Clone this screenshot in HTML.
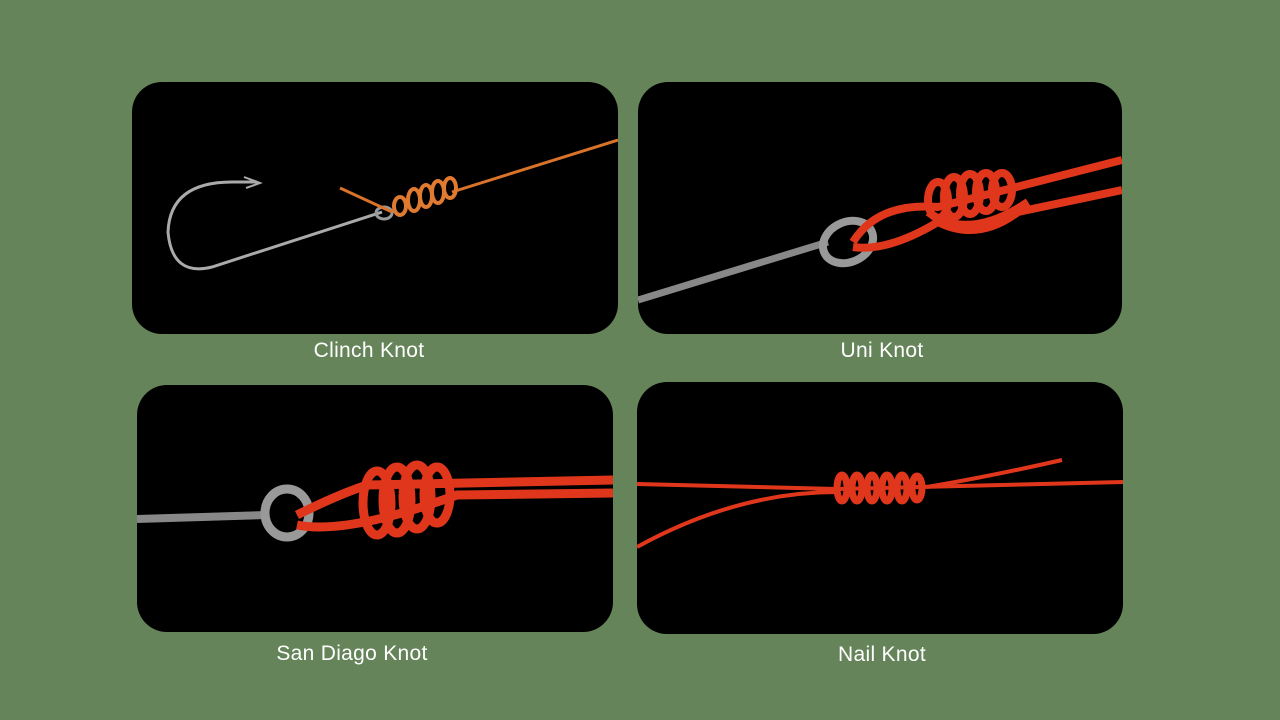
<!DOCTYPE html>
<html><head><meta charset="utf-8"><style>
html,body{margin:0;padding:0;}
body{width:1280px;height:720px;background:#66845a;position:relative;overflow:hidden;font-family:"Liberation Sans",sans-serif;}
.p{position:absolute;background:#000;border-radius:30px;overflow:hidden;}
.l{position:absolute;color:#fff;font-size:21px;transform:translateX(-50%);white-space:nowrap;letter-spacing:0.3px;}
svg{position:absolute;left:0;top:0;}
</style></head><body>
<div class="p" style="left:132px;top:82px;width:486px;height:252px;">
<svg width="486" height="252">
<path d="M250 130 L80 185 Q40 195 36 150 Q38 100 100 100 L125 100" fill="none" stroke="#aaa" stroke-width="3"/>
<path d="M112 95 L128 101 L114 106" fill="none" stroke="#aaa" stroke-width="2"/>
<ellipse cx="252" cy="131" rx="8" ry="6" fill="none" stroke="#999" stroke-width="3"/>
<path d="M320 110 L486 58" stroke="#d9732a" stroke-width="3" fill="none"/>
<path d="M208 106 L260 130" stroke="#d9732a" stroke-width="3" fill="none"/>
<g fill="none" stroke="#e07a30" stroke-width="4">
<ellipse cx="268" cy="124" rx="6" ry="9"/><ellipse cx="282" cy="118" rx="6" ry="11"/><ellipse cx="294" cy="114" rx="6" ry="11"/><ellipse cx="306" cy="110" rx="6" ry="11"/><ellipse cx="318" cy="106" rx="6" ry="10"/></g>
</svg></div>
<div class="p" style="left:638px;top:82px;width:484px;height:252px;">
<svg width="484" height="252">
<path d="M0 218 L190 160" stroke="#888" stroke-width="7"/>
<ellipse cx="210" cy="160" rx="26" ry="20" fill="none" stroke="#999" stroke-width="8" transform="rotate(-25 210 160)"/>
<g fill="none" stroke="#e0371c" stroke-width="8">
<path d="M215 160 Q240 120 300 125 L484 78"/>
<path d="M215 165 Q250 170 300 140 Q340 160 380 130 L484 108"/>
<ellipse cx="300" cy="118" rx="10" ry="18"/><ellipse cx="316" cy="115" rx="10" ry="20"/><ellipse cx="332" cy="112" rx="10" ry="20"/><ellipse cx="348" cy="110" rx="10" ry="19"/><ellipse cx="364" cy="108" rx="10" ry="17"/>
<path d="M290 130 Q330 160 390 120"/></g>
</svg></div>
<div class="p" style="left:137px;top:385px;width:476px;height:247px;">
<svg width="476" height="247">
<path d="M0 134 L130 130" stroke="#888" stroke-width="8"/>
<ellipse cx="150" cy="128" rx="22" ry="24" fill="none" stroke="#999" stroke-width="9"/>
<g fill="none" stroke="#e0371c" stroke-width="9">
<path d="M160 130 Q200 110 230 100 L476 95"/>
<path d="M160 140 Q210 150 320 110 L476 108"/>
<ellipse cx="240" cy="118" rx="14" ry="32"/><ellipse cx="260" cy="115" rx="14" ry="33"/><ellipse cx="280" cy="112" rx="14" ry="32"/><ellipse cx="300" cy="110" rx="13" ry="28"/></g>
</svg></div>
<div class="p" style="left:637px;top:382px;width:486px;height:252px;">
<svg width="486" height="252">
<g fill="none" stroke="#e0371c" stroke-width="4">
<path d="M0 102 L200 107 L486 100"/>
<path d="M0 165 Q100 110 200 110"/>
<path d="M290 105 Q350 95 425 78"/>
</g>
<g fill="none" stroke="#e0371c" stroke-width="7">
<ellipse cx="205" cy="106" rx="5" ry="13"/><ellipse cx="220" cy="106" rx="5" ry="13"/><ellipse cx="235" cy="106" rx="5" ry="13"/><ellipse cx="250" cy="106" rx="5" ry="13"/><ellipse cx="265" cy="106" rx="5" ry="13"/><ellipse cx="280" cy="106" rx="5" ry="12"/></g>
</svg></div>
<div class="l" style="left:369px;top:339px;">Clinch Knot</div>
<div class="l" style="left:882px;top:339px;">Uni Knot</div>
<div class="l" style="left:352px;top:642px;">San Diago Knot</div>
<div class="l" style="left:882px;top:643px;">Nail Knot</div>
</body></html>
